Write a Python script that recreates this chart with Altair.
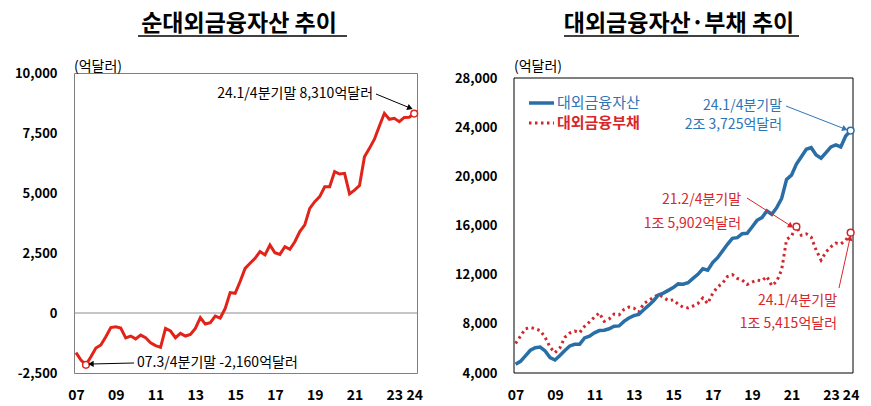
import altair as alt
import pandas as pd

FONT = "Noto Sans CJK KR"
RED_L = "#E2231A"
BLUE = "#2A6EA6"
BLUE_TXT = "#2E75B6"
RED_R = "#D0272C"
RED_TXT = "#D9262C"

# ---------------- data (quarterly, 2007 Q1 .. 2024 Q1), 억달러 ----------------
start_year = 2007
net_assets = [
    -1650, -1960, -2160, -1820, -1460, -1330, -990, -610, -570, -625,
    -1040, -960, -1080, -920, -1030, -1240, -1360, -1430, -640, -750,
    -1030, -850, -960, -890, -640, -190, -460, -400, -130, -210,
    190, 850, 820, 1310, 1860, 2070, 2280, 2560, 2420, 2830,
    2510, 2440, 2760, 2650, 2970, 3390, 3670, 4360, 4640, 4850,
    5260, 5260, 5890, 5790, 5820, 4960, 5120, 5310, 6510, 6860,
    7240, 7790, 8320, 8070, 8110, 7970, 8150, 8160, 8310,
]
ext_assets = [
    4710, 4950, 5400, 5850, 6060, 6110, 5800, 5250, 5060, 5420,
    5830, 6200, 6330, 6340, 6850, 7000, 7270, 7450, 7480, 7600,
    7800, 7830, 8200, 8470, 8670, 8770, 9150, 9500, 9880, 10350,
    10500, 10720, 10950, 11250, 11220, 11340, 11700, 12030, 12480, 12370,
    12980, 13380, 13930, 14470, 14960, 15010, 15330, 15370, 15880, 16420,
    16640, 17180, 16910, 17450, 18200, 19750, 20100, 21000, 21600, 22200,
    22330, 21740, 21470, 21930, 22390, 22550, 22390, 23280, 23725,
]
ext_liab = [
    6400, 7000, 7600, 7700, 7600, 7450, 6900, 6100, 5650, 6050,
    6900, 7250, 7410, 7280, 7800, 8150, 8550, 8880, 8200, 8400,
    8800, 8730, 9170, 9360, 9280, 8960, 9650, 9900, 10150, 10400,
    10150, 9900, 9950, 9600, 9350, 9300, 9450, 9650, 10100, 9650,
    10480, 11000, 11300, 11850, 12000, 11700, 11550, 11200, 11400, 11560,
    11500, 11850, 11100, 11450, 12400, 14850, 15150, 15902, 15200, 15320,
    15050, 14000, 13180, 13850, 14270, 14570, 14500, 14800, 15415,
]
quarter_pos = [start_year + k / 4 for k in range(len(net_assets))]

year_ticks = [2007, 2009, 2011, 2013, 2015, 2017, 2019, 2021, 2023, 2024]
left_y_ticks = [-2500, 0, 2500, 5000, 7500, 10000]
right_y_ticks = [4000, 8000, 12000, 16000, 20000, 24000, 28000]

# highlighted points (quarter index)
left_marks = [2, 68]
asset_marks = [68]
liab_marks = [57, 68]

LEFT_X_DOM = [2006.9, 2024.14]
LEFT_Y_DOM = [-2500, 10000]
RIGHT_X_DOM = [2006.92, 2024.12]
RIGHT_Y_DOM = [4000, 28000]
RIGHT_Y_RANGE = [300, 5]


def xenc(domain, field="t:Q"):
    return alt.X(
        field,
        scale=alt.Scale(domain=domain, nice=False, zero=False),
        axis=alt.Axis(values=year_ticks, labelExpr="substring(toString(datum.value), 2)",
                      title=None, grid=False, ticks=False, domain=False,
                      labelFont=FONT, labelFontSize=14, labelFontWeight="bold",
                      labelColor="black", labelPadding=15, labelOverlap=False,
                      labelFlush=False),
    )


def yenc(domain, ticks, field="v:Q", rng=None):
    sc = alt.Scale(domain=domain, nice=False, zero=False)
    if rng is not None:
        sc = alt.Scale(domain=domain, range=rng, nice=False, zero=False)
    return alt.Y(
        field,
        scale=sc,
        axis=alt.Axis(values=ticks, format=",d",
                      labelExpr="replace(datum.label, '\u2212', '-')",
                      title=None, grid=False, ticks=False, domain=False,
                      labelFont=FONT, labelFontSize=13, labelFontWeight="bold",
                      labelColor="black", labelPadding=17, labelOverlap=False,
                      labelFlush=False),
    )


def texts(df, x, y, align, color, weight="normal", size=14):
    return alt.Chart(df).mark_text(
        align=align, baseline="middle", font=FONT, fontSize=size,
        fontWeight=weight, color=color
    ).encode(x=x, y=y, text="txt:N")


def arrows(df, xdom, ydom, yticks, color, rng=None, width=1):
    x = xenc(xdom)
    y = yenc(ydom, yticks, rng=rng)
    line = alt.Chart(df).mark_rule(color=color, strokeWidth=width).encode(
        x=x, y=y, x2="t2:Q", y2="v2:Q")
    head = alt.Chart(df).mark_point(shape="triangle-right", filled=True, size=40,
                                    opacity=1, color=color).encode(
        x=xenc(xdom, "t2:Q"), y=yenc(ydom, yticks, "v2:Q", rng=rng),
        angle=alt.Angle("ang:Q", scale=None))
    return line + head


def deco(title, tx, ty, ux1, ux2, uy, unit_y):
    one = pd.DataFrame({"a": [0]})
    t = alt.Chart(one).mark_text(text=title, font=FONT, fontSize=23, fontWeight="bold",
                                 align="center", baseline="middle", color="black").encode(
        x=alt.value(tx), y=alt.value(ty))
    u = alt.Chart(one).mark_rule(color="black", strokeWidth=1.5).encode(
        x=alt.value(ux1), x2=alt.value(ux2), y=alt.value(uy))
    unit = alt.Chart(one).mark_text(text="(억달러)", font=FONT, fontSize=14,
                                    align="left", baseline="bottom", color="black").encode(
        x=alt.value(0), y=alt.value(unit_y))
    return t + u + unit


# ---------------- left panel ----------------
xl = xenc(LEFT_X_DOM)
yl = yenc(LEFT_Y_DOM, left_y_ticks)
left_df = pd.DataFrame({"t": quarter_pos, "v": net_assets})
left_pts = left_df.iloc[left_marks]

zero_line = alt.Chart(pd.DataFrame({"v": [0]})).mark_rule(color="#8c8c8c", strokeWidth=1).encode(y=yl)
left_line = alt.Chart(left_df).mark_line(color=RED_L, strokeWidth=3).encode(x=xl, y=yl)
left_circ = alt.Chart(left_pts).mark_point(shape="circle", filled=True, fill="white", stroke=RED_L,
                                           strokeWidth=1.5, size=45, opacity=1).encode(x=xl, y=yl)
l_ann_r = pd.DataFrame({"t": [2021.93], "v": [9125], "txt": ["24.1/4분기말 8,310억달러"]})
l_ann_l = pd.DataFrame({"t": [2010.07], "v": [-2083], "txt": ["07.3/4분기말 -2,160억달러"]})
l_arrows = pd.DataFrame({"t": [2022.08, 2009.92], "v": [9125, -2083],
                         "t2": [2023.79, 2007.75], "v2": [8542, -2125], "ang": [22, 179]})

left = alt.layer(
    zero_line, left_line, left_circ,
    texts(l_ann_r, xl, yl, "right", "black"),
    texts(l_ann_l, xl, yl, "left", "black"),
    arrows(l_arrows, LEFT_X_DOM, LEFT_Y_DOM, left_y_ticks, "black"),
    deco("순대외금융자산  추이", 165, -49, 64, 273, -37, 1),
).properties(width=343, height=300, view=alt.ViewBackground(stroke="#7f7f7f", strokeWidth=1))

# ---------------- right panel ----------------
xr = xenc(RIGHT_X_DOM)
yr = yenc(RIGHT_Y_DOM, right_y_ticks, rng=RIGHT_Y_RANGE)
a_df = pd.DataFrame({"t": quarter_pos, "v": ext_assets})
l_df = pd.DataFrame({"t": quarter_pos, "v": ext_liab})

frame_df = pd.DataFrame({"t": [RIGHT_X_DOM[0]], "t2": [RIGHT_X_DOM[1]],
                         "v": [RIGHT_Y_DOM[0]], "v2": [RIGHT_Y_DOM[1]]})
frame = alt.Chart(frame_df).mark_rect(filled=False, stroke="black", strokeWidth=1).encode(
    x=xr, x2="t2:Q", y=yr, y2="v2:Q")

liab_line = alt.Chart(l_df).mark_line(color=RED_R, strokeWidth=3, strokeDash=[2.5, 3.5]).encode(x=xr, y=yr)
asset_line = alt.Chart(a_df).mark_line(color=BLUE, strokeWidth=3.5).encode(x=xr, y=yr)
asset_circ = alt.Chart(a_df.iloc[asset_marks]).mark_point(shape="circle", filled=True, fill="white", stroke=BLUE,
                                                          strokeWidth=1.5, size=45, opacity=1).encode(x=xr, y=yr)
liab_circ = alt.Chart(l_df.iloc[liab_marks]).mark_point(shape="circle", filled=True, fill="white", stroke=RED_R,
                                                        strokeWidth=1.5, size=45, opacity=1).encode(x=xr, y=yr)

leg_blue = pd.DataFrame({"t": [2007.68], "t2": [2008.95], "v": [25966]})
leg_red = pd.DataFrame({"t": [2007.68], "t2": [2008.95], "v": [24339]})
leg_blue_txt = pd.DataFrame({"t": [2009.10], "v": [25966], "txt": ["대외금융자산"]})
leg_red_txt = pd.DataFrame({"t": [2009.10], "v": [24339], "txt": ["대외금융부채"]})

r_blue_txt = pd.DataFrame({"t": [2020.52, 2020.52], "v": [25722, 24176],
                           "txt": ["24.1/4분기말", "2조 3,725억달러"]})
r_red_txt1 = pd.DataFrame({"t": [2018.44, 2018.44], "v": [18074, 16121],
                           "txt": ["21.2/4분기말", "1조 5,902억달러"]})
r_red_txt2 = pd.DataFrame({"t": [2023.31, 2023.31], "v": [9857, 7985],
                           "txt": ["24.1/4분기말", "1조 5,415억달러"]})
r_blue_arr = pd.DataFrame({"t": [2020.72], "v": [25722], "t2": [2023.71], "v2": [23851], "ang": [21]})
r_red_arr = pd.DataFrame({"t": [2018.74, 2023.41], "v": [18237, 10914],
                          "t2": [2020.97, 2023.97], "v2": [15959, 14982], "ang": [32, 282]})

right = alt.layer(
    frame, liab_line, asset_line, asset_circ, liab_circ,
    alt.Chart(leg_blue).mark_rule(color=BLUE, strokeWidth=3.5).encode(x=xr, x2="t2:Q", y=yr),
    alt.Chart(leg_red).mark_rule(color=RED_R, strokeWidth=3, strokeDash=[2.5, 3.5]).encode(x=xr, x2="t2:Q", y=yr),
    texts(leg_blue_txt, xr, yr, "left", BLUE_TXT, "normal", 15),
    texts(leg_red_txt, xr, yr, "left", RED_TXT, "bold", 15),
    texts(r_blue_txt, xr, yr, "right", BLUE_TXT),
    texts(r_red_txt1, xr, yr, "right", RED_TXT),
    texts(r_red_txt2, xr, yr, "right", RED_TXT),
    arrows(r_blue_arr, RIGHT_X_DOM, RIGHT_Y_DOM, right_y_ticks, BLUE_TXT, rng=RIGHT_Y_RANGE),
    arrows(r_red_arr, RIGHT_X_DOM, RIGHT_Y_DOM, right_y_ticks, RED_TXT, rng=RIGHT_Y_RANGE),
    deco("대외금융자산·부채  추이", 165, -49, 50, 285, -37, 1),
).properties(width=339, height=300, view=alt.ViewBackground(stroke="transparent", strokeWidth=0))

chart = alt.hconcat(left, right, spacing=31).properties(
    padding={"left": 13, "top": 12, "right": 5, "bottom": 5}
).configure(background="white").configure_view(strokeWidth=1)

chart.save("out.html", embed_options={"renderer": "svg", "actions": False})
